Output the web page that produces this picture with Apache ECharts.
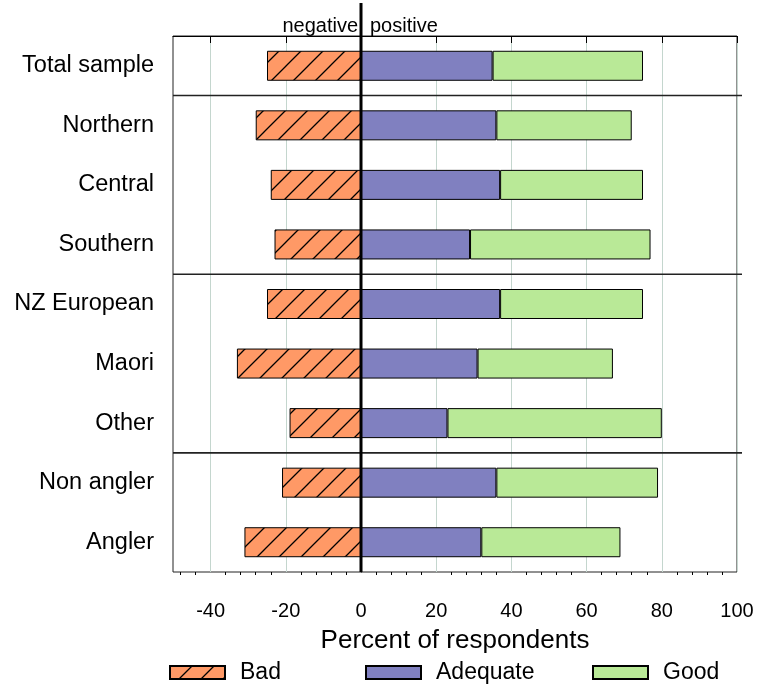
<!DOCTYPE html>
<html>
<head>
<meta charset="utf-8">
<script src="https://cdn.jsdelivr.net/npm/echarts@6/dist/echarts.min.js"></script>
<style>
  html, body { margin: 0; padding: 0; background: #fff; }
  #chart { width: 757px; height: 686px; }
</style>
</head>
<body>
<div id="chart"></div>
<script>
var categories = ['Total sample', 'Northern', 'Central', 'Southern', 'NZ European', 'Maori', 'Other', 'Non angler', 'Angler'];
var bad = [-25, -28, -24, -23, -25, -33, -19, -21, -31];
var adequate = [35, 36, 37, 29, 37, 31, 23, 36, 32];
var good = [40, 36, 38, 48, 38, 36, 57, 43, 37];
var xTicks = [-40, -20, 0, 20, 40, 60, 80, 100];
var groupBreaks = [1, 4, 7];

var FONT = '"Liberation Sans", Arial, sans-serif';

// minor ticks every 4 units between the labelled ones
var minorTicks = [];
for (var v = -48; v < 100; v += 4) {
  if (v % 20 !== 0) minorTicks.push(v);
}

// hatch pattern for "Bad"
function makeHatch() {
  var s = 22;
  var c = document.createElement('canvas');
  c.width = s; c.height = s;
  var ctx = c.getContext('2d');
  ctx.fillStyle = '#FF9966';
  ctx.fillRect(0, 0, s, s);
  ctx.strokeStyle = '#000';
  ctx.lineWidth = 1.3;
  ctx.beginPath();
  ctx.moveTo(0, s); ctx.lineTo(s, 0);
  ctx.moveTo(-2, 2); ctx.lineTo(2, -2);
  ctx.moveTo(s - 2, s + 2); ctx.lineTo(s + 2, s - 2);
  ctx.stroke();
  return c;
}
var hatch = { image: makeHatch(), repeat: 'repeat' };

var legendText = { fontSize: 23, color: '#000', fontFamily: FONT, padding: [0, 0, 0, 10] };

var chart = echarts.init(document.getElementById('chart'));

var option = {
  animation: false,
  textStyle: { fontFamily: FONT },
  grid: {
    left: 173, right: 20, top: 36, bottom: 114,
    show: true, borderColor: '#222', borderWidth: 1
  },
  legend: [
    { data: ['Bad'], left: 169, top: 661, padding: 0, icon: 'rect', itemWidth: 55, itemHeight: 13, textStyle: legendText },
    { data: ['Adequate'], left: 365, top: 661, padding: 0, icon: 'rect', itemWidth: 55, itemHeight: 13, textStyle: legendText },
    { data: ['Good'], left: 592, top: 661, padding: 0, icon: 'rect', itemWidth: 55, itemHeight: 13, textStyle: legendText }
  ],
  xAxis: [
    {
      type: 'value', min: -50, max: 100,
      name: 'Percent of respondents', nameLocation: 'middle', nameGap: 56,
      nameTextStyle: { fontSize: 26, color: '#000', fontFamily: FONT },
      axisLine: { show: true, lineStyle: { color: '#000', width: 1 } },
      axisTick: { show: true, customValues: xTicks, length: 7, lineStyle: { color: '#000' } },
      axisLabel: { customValues: xTicks, fontSize: 20, color: '#000', margin: 29, fontFamily: FONT },
      splitLine: { show: true, lineStyle: { color: '#c4d6ce', width: 1 } }
    },
    {
      // minor ticks, moved down onto the bottom edge
      type: 'value', min: -50, max: 100, position: 'top', offset: -536,
      axisLine: { show: false },
      axisTick: { show: true, inside: true, customValues: minorTicks, length: 3, lineStyle: { color: '#000' } },
      axisLabel: { show: false },
      splitLine: { show: false }
    }
  ],
  yAxis: [
    {
      type: 'category', data: categories, inverse: true,
      axisLine: { show: true, lineStyle: { color: '#000', width: 1 } },
      axisTick: { show: true, alignWithLabel: true, length: 6, lineStyle: { color: '#000' } },
      axisLabel: { fontSize: 23.5, color: '#000', margin: 19, fontFamily: FONT },
      splitLine: { show: false }
    },
    {
      type: 'value', min: 0, max: categories.length, inverse: true, show: false
    }
  ],
  series: [
    {
      name: 'Bad', type: 'bar', stack: 'total', barWidth: 30,
      itemStyle: { color: hatch, borderColor: '#000', borderWidth: 1 },
      data: bad
    },
    {
      name: 'Adequate', type: 'bar', stack: 'total', barWidth: 30,
      itemStyle: { color: '#8080C0', borderColor: '#000', borderWidth: 1 },
      data: adequate
    },
    {
      name: 'Good', type: 'bar', stack: 'total', barWidth: 30,
      itemStyle: { color: '#B9E997', borderColor: '#000', borderWidth: 1 },
      data: good
    },
    {
      // group separators
      name: 'sep', type: 'custom', xAxisIndex: 0, yAxisIndex: 1, silent: true,
      data: groupBreaks.map(function (b) { return [0, b]; }),
      renderItem: function (params, api) {
        var cs = params.coordSys;
        var y = api.coord([0, api.value(1)])[1];
        return {
          type: 'line',
          shape: { x1: cs.x, y1: y, x2: cs.x + cs.width + 5, y2: y },
          style: { stroke: '#222', lineWidth: 1.6 }
        };
      }
    },
    {
      // thick zero line with negative / positive labels
      name: 'zero', type: 'custom', xAxisIndex: 0, yAxisIndex: 1, silent: true, z: 10,
      data: [[0, 0]],
      renderItem: function (params, api) {
        var cs = params.coordSys;
        var x = api.coord([api.value(0), 0])[0];
        return {
          type: 'group',
          children: [
            {
              type: 'line',
              shape: { x1: x, y1: cs.y - 33, x2: x, y2: cs.y + cs.height },
              style: { stroke: '#000', lineWidth: 3 }
            },
            {
              type: 'text',
              x: x - 3, y: cs.y - 10,
              style: { text: 'negative', align: 'right', verticalAlign: 'middle', fontSize: 20, fill: '#000', fontFamily: FONT }
            },
            {
              type: 'text',
              x: x + 9, y: cs.y - 10,
              style: { text: 'positive', align: 'left', verticalAlign: 'middle', fontSize: 20, fill: '#000', fontFamily: FONT }
            }
          ]
        };
      }
    }
  ]
};

chart.setOption(option);
</script>
</body>
</html>
